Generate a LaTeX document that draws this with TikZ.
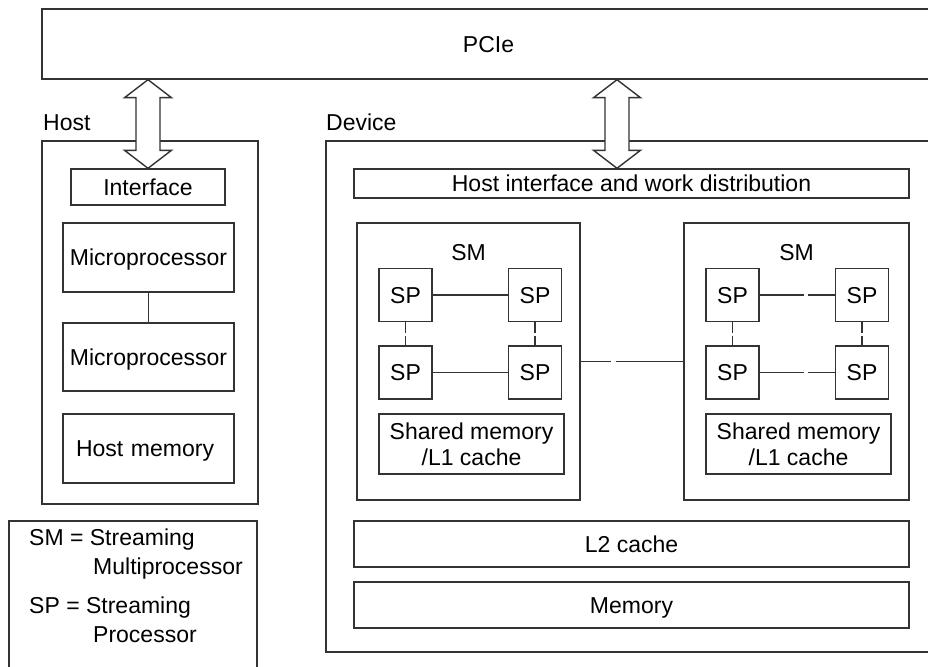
\documentclass[tikz,border=0pt]{standalone}
\usepackage{fontspec}
\setmainfont{Liberation Sans}
\usetikzlibrary{calc}
\newcommand{\diafont}{\fontsize{23}{26}\selectfont}
\definecolor{linec}{gray}{0.2}
\begin{document}
\begin{tikzpicture}[x=1pt,y=-1pt,
  line/.style={draw=linec, line width=1.4pt},
  box/.style={line, fill=white, inner sep=0pt, align=center, font=\diafont},
  capc/.style={text height=16.5pt, text depth=0pt},
  lbl/.style={inner sep=0pt, font=\diafont, text height=16.5pt, text depth=0pt},
  blockarrow/.style={line, fill=white, line join=miter},
  spbox/.style={box, capc, minimum width=53pt, minimum height=53pt},
  widebox/.style={box, capc, minimum width=555pt},
]
\useasboundingbox (0,0) rectangle (928,666);
\fill[white] (0,0) rectangle (928,666);

% PCIe
\node[box, capc, minimum width=893pt, minimum height=70pt] (pcie) at (488.5,44) {PCIe};

% Host
\node[lbl, anchor=west] (hostl) at (43,122) {Host};
\node[box, minimum width=216pt, minimum height=363pt] (host) at (150,322.5) {};
\node[box, capc, minimum width=154pt, minimum height=36pt] (iface) at (148,187) {Interface};
\node[box, capc, minimum width=171pt, minimum height=69pt] (mp1) at (148.5,257.5) {Microprocessor};
\node[box, capc, minimum width=171pt, minimum height=68pt] (mp2) at (148.5,357) {Microprocessor};
\node[box, capc, minimum width=171pt, minimum height=69pt, text width=171pt, align=left] (hmem) at (148.5,448.5) {\hspace*{13pt}Host memory};
\draw[line] (mp1) -- (mp2);

% Legend
\node[box, minimum width=248pt, minimum height=154pt] (legend) at (133,598) {};
\node[lbl, anchor=base west] (lg1) at (29,545) {SM = Streaming};
\node[lbl, anchor=base west] (lg2) at (93,574) {Multiprocessor};
\node[lbl, anchor=base west] (lg3) at (29,613) {SP = Streaming};
\node[lbl, anchor=base west] (lg4) at (93,642) {Processor};

% Device
\node[lbl, anchor=west] (devl) at (326,122) {Device};
\node[box, minimum width=609pt, minimum height=511pt] (dev) at (630.5,396.5) {};
\node[widebox, minimum height=29pt] (hiwd) at (631.5,183.5) {Host interface and work distribution};
\node[widebox, minimum height=46pt] (l2) at (631.5,544) {L2 cache};
\node[widebox, minimum height=46pt] (mem) at (631.5,605) {Memory};

% SM left
\node[box, minimum width=223pt, minimum height=277pt] (smL) at (468.5,361.5) {};
\node[lbl] (smLl) at (468.5,252) {SM};
\node[spbox] (spL1) at (405.5,295) {SP};
\node[spbox] (spL2) at (535,295) {SP};
\node[spbox] (spL3) at (405.5,372.5) {SP};
\node[spbox] (spL4) at (535,372.5) {SP};
\node[box, minimum width=185pt, minimum height=60pt] (shL) at (471.5,444) {Shared memory\\/L1 cache};
\draw[line] (spL1) -- (spL2);
\draw[line] (spL3) -- (spL4);
\draw[line, dash pattern=on 11pt off 3pt on 40pt] (spL1) -- (spL3);
\draw[line, dash pattern=on 11pt off 3pt on 40pt] (spL2) -- (spL4);

% SM right
\node[box, minimum width=225pt, minimum height=277pt] (smR) at (796.5,361.5) {};
\node[lbl] (smRl) at (796.5,252) {SM};
\node[spbox] (spR1) at (732.5,295) {SP};
\node[spbox] (spR2) at (862,295) {SP};
\node[spbox] (spR3) at (732.5,372.5) {SP};
\node[spbox] (spR4) at (862,372.5) {SP};
\node[box, minimum width=185pt, minimum height=60pt] (shR) at (798.5,444) {Shared memory\\/L1 cache};
\draw[line, dash pattern=on 44pt off 4pt on 100pt] (spR1) -- (spR2);
\draw[line, dash pattern=on 44pt off 4pt on 100pt] (spR3) -- (spR4);
\draw[line, dash pattern=on 11pt off 3pt on 40pt] (spR1) -- (spR3);
\draw[line, dash pattern=on 11pt off 3pt on 40pt] (spR2) -- (spR4);

% SM to SM
\draw[line, dash pattern=on 30pt off 5pt on 200pt] (smL) -- (smR);

% Block arrows
\coordinate (ha1) at (iface.north |- pcie.south);
\coordinate (ha2) at (iface.north);
\draw[blockarrow] (ha1) -- ++(23.5,18) -- ++(-11.5,0) -- ($(ha2)+(12,-18)$) -- ++(11.5,0) -- (ha2)
  -- ++(-23.5,-18) -- ++(11.5,0) -- ($(ha1)+(-12,18)$) -- ++(-11.5,0) -- cycle;
\coordinate (dx) at (617,0);
\coordinate (da1) at (dx |- pcie.south);
\coordinate (da2) at (dx |- hiwd.north);
\draw[blockarrow] (da1) -- ++(23.5,18) -- ++(-11.5,0) -- ($(da2)+(12,-18)$) -- ++(11.5,0) -- (da2)
  -- ++(-23.5,-18) -- ++(11.5,0) -- ($(da1)+(-12,18)$) -- ++(-11.5,0) -- cycle;
\end{tikzpicture}
\end{document}
